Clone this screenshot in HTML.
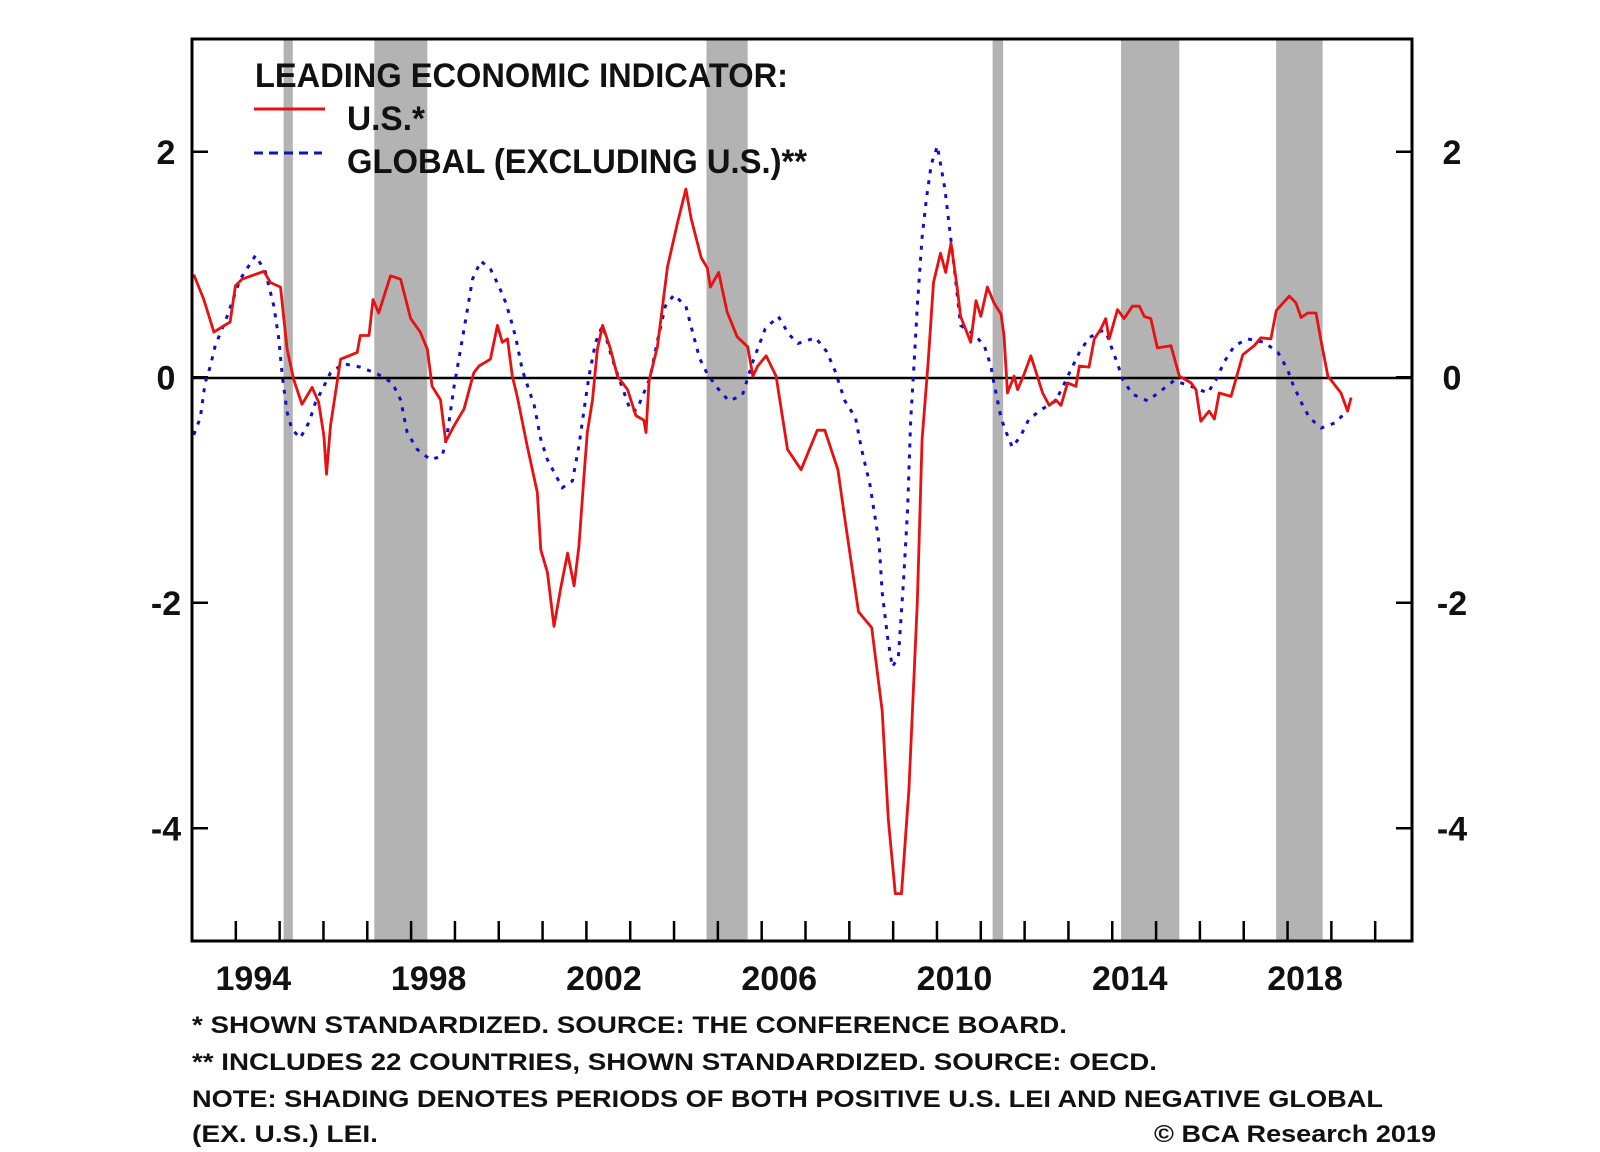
<!DOCTYPE html>
<html><head><meta charset="utf-8"><style>
html,body{margin:0;padding:0;background:#fff;}
svg{display:block;font-family:"Liberation Sans Narrow","Liberation Sans",sans-serif;}
</style></head><body>
<svg id="chart" width="1600" height="1152" viewBox="0 0 1600 1152" xmlns="http://www.w3.org/2000/svg">
<g id="shades"></g>
<g id="ticks"></g>
<line x1="192" x2="1412" y1="378" y2="378" stroke="#000" stroke-width="2.5"/>
<path id="globalLine" fill="none" stroke="#1010c8" stroke-width="3" stroke-dasharray="4,7"/>
<path id="usLine" fill="none" stroke="#e81010" stroke-width="2.8" stroke-linejoin="round"/>
<rect x="192" y="39" width="1220" height="902" fill="none" stroke="#000" stroke-width="3"/>
<g id="labels" font-weight="bold" font-size="34" fill="#111"></g>
<g font-weight="bold" font-size="34" fill="#111">
<text x="255" y="87" textLength="533" lengthAdjust="spacingAndGlyphs">LEADING ECONOMIC INDICATOR:</text>
<line x1="254" x2="325" y1="109" y2="109" stroke="#e81010" stroke-width="3"/>
<text x="347" y="130" textLength="78" lengthAdjust="spacingAndGlyphs">U.S.*</text>
<line x1="254" x2="322" y1="153" y2="153" stroke="#1010c8" stroke-width="3" stroke-dasharray="9,6"/>
<text x="347" y="173" textLength="460" lengthAdjust="spacingAndGlyphs">GLOBAL (EXCLUDING U.S.)**</text>
</g>
<g font-size="24" fill="#111" font-weight="bold">
<text x="192" y="1033" textLength="875" lengthAdjust="spacingAndGlyphs">*  SHOWN STANDARDIZED. SOURCE: THE CONFERENCE BOARD.</text>
<text x="192" y="1070" textLength="965" lengthAdjust="spacingAndGlyphs">** INCLUDES 22 COUNTRIES, SHOWN STANDARDIZED. SOURCE: OECD.</text>
<text x="192" y="1107" textLength="1191" lengthAdjust="spacingAndGlyphs">NOTE: SHADING DENOTES PERIODS OF BOTH POSITIVE U.S. LEI AND NEGATIVE GLOBAL</text>
<text x="192" y="1142" textLength="186" lengthAdjust="spacingAndGlyphs">(EX. U.S.) LEI.</text>
<text x="1154" y="1142" textLength="282" lengthAdjust="spacingAndGlyphs" font-family="Liberation Sans, sans-serif">© BCA Research 2019</text>
</g>
</svg>
<script>
const yTicks=[2,0,-2,-4];
const yTickLabels=["2","0","-2","-4"];
const xLabelYears=[1994,1998,2002,2006,2010,2014,2018];
const shadeStart=[1995.09,1997.16,2004.74,2011.27,2014.2,2017.74];
const shadeEnd=[1995.3,1998.37,2005.68,2011.51,2015.53,2018.8];
const usYears=[1993.04,1993.27,1993.5,1993.87,1993.99,1994.14,1994.64,1994.79,1995.02,1995.17,1995.32,1995.51,1995.74,1995.89,1996.01,1996.07,1996.16,1996.39,1996.77,1996.84,1997.04,1997.13,1997.26,1997.53,1997.76,1997.99,1998.21,1998.37,1998.48,1998.67,1998.79,1998.98,1999.21,1999.43,1999.55,1999.81,1999.97,2000.08,2000.2,2000.31,2000.42,2000.65,2000.88,2000.96,2001.11,2001.26,2001.41,2001.57,2001.72,2001.83,2001.95,2002.02,2002.14,2002.25,2002.37,2002.55,2002.71,2002.94,2003.13,2003.31,2003.36,2003.43,2003.62,2003.85,2004.08,2004.27,2004.39,2004.62,2004.76,2004.83,2005.02,2005.21,2005.44,2005.68,2005.8,2005.91,2006.1,2006.33,2006.59,2006.9,2007.27,2007.44,2007.74,2007.9,2008.21,2008.51,2008.75,2008.89,2009.05,2009.19,2009.36,2009.55,2009.66,2009.8,2009.92,2010.08,2010.2,2010.32,2010.46,2010.54,2010.77,2010.89,2011.0,2011.15,2011.3,2011.46,2011.53,2011.61,2011.76,2011.84,2011.99,2012.14,2012.29,2012.41,2012.56,2012.71,2012.83,2012.98,2013.17,2013.25,2013.47,2013.59,2013.74,2013.85,2013.93,2014.12,2014.27,2014.46,2014.62,2014.73,2014.88,2015.03,2015.34,2015.53,2015.8,2015.91,2016.02,2016.21,2016.33,2016.44,2016.71,2016.82,2016.98,2017.24,2017.39,2017.62,2017.74,2018.04,2018.19,2018.31,2018.46,2018.65,2018.77,2018.92,2019.22,2019.37,2019.45];
const usValues=[.91,.69,.40,.49,.81,.87,.94,.84,.80,.25,-.02,-.24,-.09,-.22,-.52,-.86,-.43,.16,.22,.37,.37,.69,.57,.90,.87,.52,.40,.25,-.08,-.20,-.57,-.43,-.28,.04,.10,.16,.46,.31,.34,.01,-.17,-.61,-1.02,-1.53,-1.73,-2.21,-1.88,-1.56,-1.85,-1.50,-.85,-.49,-.20,.25,.46,.25,.01,-.11,-.34,-.38,-.49,-.03,.27,.98,1.37,1.67,1.41,1.06,.97,.80,.93,.58,.36,.27,.01,.10,.19,.01,-.64,-.82,-.47,-.47,-.82,-1.26,-2.08,-2.22,-2.96,-3.92,-4.58,-4.58,-3.66,-2.0,-.55,.14,.84,1.1,.93,1.19,.80,.54,.31,.68,.54,.80,.66,.56,.37,-.14,.01,-.11,.03,.19,.01,-.14,-.25,-.20,-.25,-.05,-.08,.10,.09,.34,.43,.52,.34,.60,.52,.63,.63,.54,.52,.26,.28,.01,-.05,-.11,-.39,-.30,-.37,-.14,-.17,-.02,.20,.28,.35,.34,.59,.72,.66,.53,.57,.57,.31,.01,-.14,-.30,-.18];
const globalYears=[1993.04,1993.19,1993.3,1993.42,1993.53,1993.8,1994.1,1994.45,1994.67,1994.87,1994.98,1995.06,1995.17,1995.28,1995.47,1995.67,1995.82,1995.97,1996.16,1996.46,1996.84,1997.23,1997.57,1997.76,1997.91,1998.14,1998.44,1998.71,1998.82,1998.98,1999.13,1999.27,1999.4,1999.59,1999.81,2000.0,2000.16,2000.27,2000.39,2000.54,2000.81,2000.96,2001.11,2001.45,2001.68,2001.83,2001.95,2002.06,2002.21,2002.37,2002.59,2002.78,2003.01,2003.15,2003.45,2003.62,2003.8,2004.0,2004.27,2004.39,2004.58,2004.76,2005.0,2005.25,2005.56,2005.8,2006.08,2006.38,2006.62,2006.83,2007.23,2007.48,2007.67,2007.9,2008.14,2008.28,2008.47,2008.68,2008.75,2008.87,2008.98,2009.12,2009.24,2009.33,2009.4,2009.48,2009.55,2009.66,2009.76,2009.87,2010.01,2010.18,2010.3,2010.39,2010.54,2010.85,2011.08,2011.23,2011.3,2011.38,2011.46,2011.57,2011.72,2011.91,2012.1,2012.41,2012.71,2012.9,2013.06,2013.25,2013.47,2013.74,2013.85,2013.97,2014.12,2014.24,2014.46,2014.81,2015.11,2015.41,2015.8,2016.18,2016.37,2016.56,2016.79,2017.09,2017.47,2017.78,2018.0,2018.12,2018.31,2018.5,2018.77,2019.11,2019.34];
const globalValues=[-.51,-.36,-.05,.10,.28,.54,.87,1.08,.94,.63,.34,.01,-.31,-.46,-.54,-.40,-.22,-.11,.04,.12,.09,.03,-.05,-.20,-.49,-.64,-.73,-.70,-.52,-.08,.25,.57,.87,1.03,.96,.81,.66,.52,.35,.06,-.25,-.55,-.73,-.98,-.92,-.61,-.28,.01,.31,.46,.16,-.05,-.30,-.29,-.01,.32,.63,.73,.63,.45,.17,.03,-.10,-.21,-.16,.14,.43,.54,.38,.30,.35,.23,.06,-.21,-.36,-.64,-.95,-1.47,-1.91,-2.30,-2.57,-2.48,-1.78,-1.17,-.38,.14,.63,1.24,1.59,1.89,2.05,1.67,1.28,.98,.46,.38,.28,.10,-.05,-.20,-.36,-.48,-.62,-.52,-.37,-.28,-.21,-.06,.07,.22,.35,.41,.41,.28,.12,-.02,-.15,-.21,-.12,-.03,-.08,-.14,-.02,.14,.28,.34,.31,.22,.07,-.06,-.22,-.36,-.45,-.40,-.30];

const NS="http://www.w3.org/2000/svg";
const X0=192,X1=1412,Y0=39,Y1=941;
const xMin=1993,xMax=2020.84,yMin=-5,yMax=3;
function xs(t){return X0+(t-xMin)/(xMax-xMin)*(X1-X0);}
function ys(v){return Y1-(v-yMin)/(yMax-yMin)*(Y1-Y0);}
function mk(tag,attrs,parent){const e=document.createElementNS(NS,tag);for(const k in attrs)e.setAttribute(k,attrs[k]);parent.appendChild(e);return e;}

const shades=document.getElementById('shades');
for(let i=0;i<shadeStart.length;i++){
  const r=mk('rect',{x:xs(shadeStart[i]),y:Y0,width:xs(shadeEnd[i])-xs(shadeStart[i]),height:Y1-Y0,fill:'#b3b3b3'},shades);
  
  
}
const ticks=document.getElementById('ticks');
for(let yr=1994;yr<=2020;yr++){
  const t=mk('line',{x1:xs(yr),x2:xs(yr),y1:Y1,y2:Y1-20,stroke:'#000','stroke-width':2.5},ticks);
  
  
}
const labels=document.getElementById('labels');
yTicks.forEach((v,i)=>{
  const a=mk('line',{x1:X0,x2:X0+16,y1:ys(v),y2:ys(v),stroke:'#000','stroke-width':2.5},ticks);
  
  
  const b=mk('line',{x1:X1-16,x2:X1,y1:ys(v),y2:ys(v),stroke:'#000','stroke-width':2.5},ticks);
  
  
  const l=mk('text',{x:166,y:ys(v)+12,'text-anchor':'middle'},labels);
  l.textContent=yTickLabels[i];
  
  
  const r=mk('text',{x:1452,y:ys(v)+12,'text-anchor':'middle'},labels);
  r.textContent=yTickLabels[i];
  
  
});
xLabelYears.forEach(yr=>{
  const l=mk('text',{x:xs(yr+0.4),y:990,'text-anchor':'middle'},labels);
  l.textContent=String(yr);
  
  
});
function pathFor(xa,va){return xa.map((t,i)=>(i?'L':'M')+xs(t).toFixed(1)+','+ys(va[i]).toFixed(1)).join(' ');}
document.getElementById('usLine').setAttribute('d',pathFor(usYears,usValues));
document.getElementById('globalLine').setAttribute('d',pathFor(globalYears,globalValues));
</script>
</body></html>
